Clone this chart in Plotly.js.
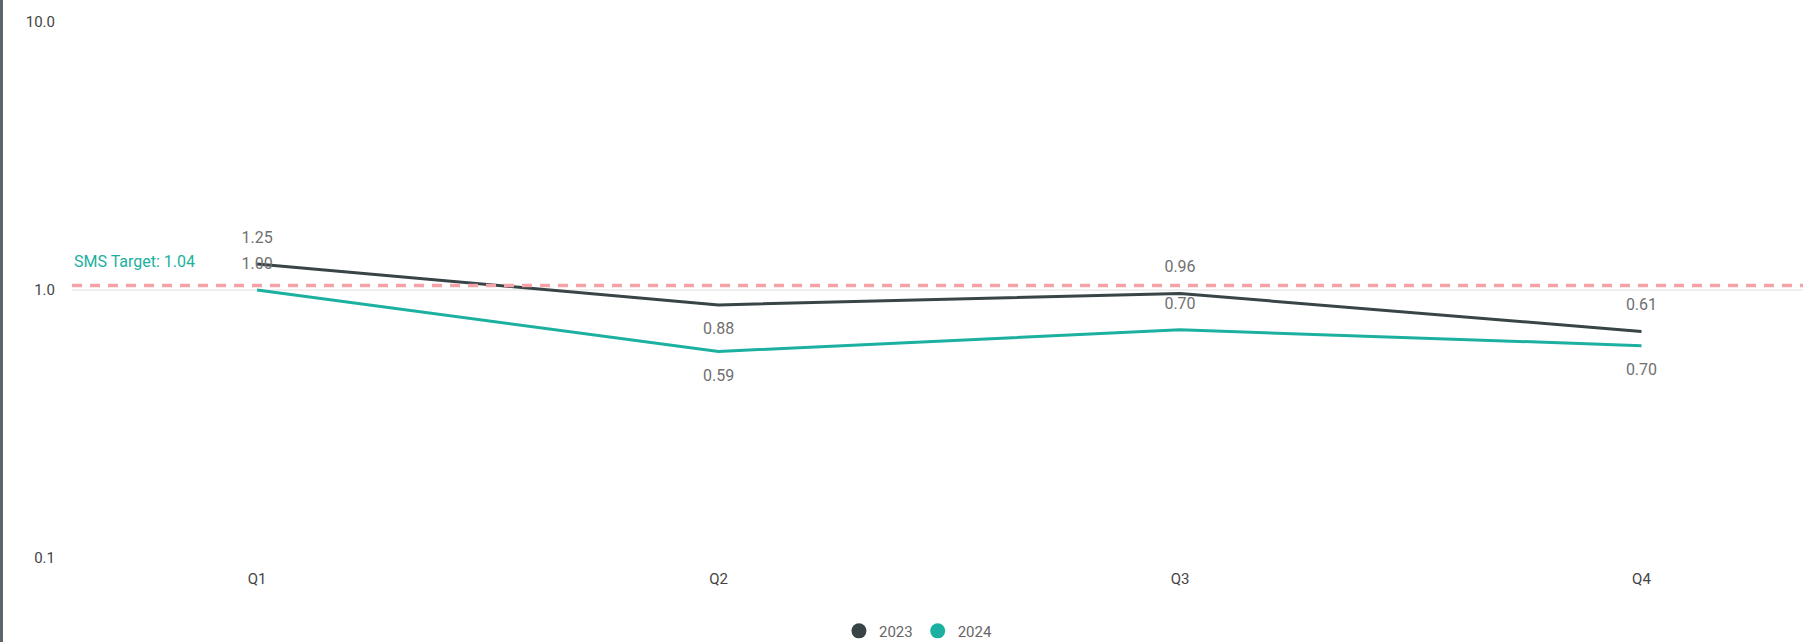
<!DOCTYPE html>
<html>
<head>
<meta charset="utf-8">
<script src="https://cdn.plot.ly/plotly-3.0.1.min.js"></script>
<style>
  html, body { margin: 0; padding: 0; background: #ffffff; overflow: hidden; }
  #chart { width: 1818px; height: 642px; }
</style>
</head>
<body>
<div id="chart"></div>
<script>
// ---- data ----
const quarters = ["Q1", "Q2", "Q3", "Q4"];
const series2023 = [1.25, 0.88, 0.97, 0.70];
const series2024 = [1.00, 0.59, 0.71, 0.62];
const labels2023 = ["1.25", "0.88", "0.96", "0.61"];
const labels2024 = ["1.00", "0.59", "0.70", "0.70"];
const labelPos2023 = ["top center", "bottom center", "top center", "top center"];
const labelPos2024 = ["top center", "bottom center", "top center", "bottom center"];
const targetValue = 1.04;
const targetLabel = "SMS Target: 1.04";
const yTickVals = [0.1, 1, 10];
const yTickText = ["0.1", "1.0", "10.0"];
const seriesNames = ["2023", "2024"];

const DARK = "#384446";
const TEAL = "#1bb0a0";
const FONT = "Roboto, 'Noto Sans', sans-serif";

const labelFont = { family: FONT, size: 16, color: "#707070" };

const traces = [
  // target reference line on a hidden overlaying linear x axis spanning the plot width
  {
    x: [0, 1], y: [targetValue, targetValue], xaxis: "x2", yaxis: "y",
    type: "scatter", mode: "lines",
    line: { color: "#f5a3a6", width: 3.5, dash: "10px,8px" },
    showlegend: false, hoverinfo: "skip"
  },
  {
    x: quarters, y: series2023, name: seriesNames[0],
    type: "scatter", mode: "lines+markers+text",
    line: { color: DARK, width: 3 },
    marker: { size: 26, opacity: 0, color: DARK },
    text: labels2023, textposition: labelPos2023, textfont: labelFont,
    showlegend: false, hoverinfo: "x+y", cliponaxis: false
  },
  {
    x: quarters, y: series2024, name: seriesNames[1],
    type: "scatter", mode: "lines+markers+text",
    line: { color: TEAL, width: 3 },
    marker: { size: 26, opacity: 0, color: TEAL },
    text: labels2024, textposition: labelPos2024, textfont: labelFont,
    showlegend: false, hoverinfo: "x+y", cliponaxis: false
  },
  // legend entries (circle markers only)
  { x: [null], y: [null], name: seriesNames[0], type: "scatter", mode: "markers",
    marker: { size: 15, color: DARK }, showlegend: true },
  { x: [null], y: [null], name: seriesNames[1], type: "scatter", mode: "markers",
    marker: { size: 15, color: TEAL }, showlegend: true }
];

const layout = {
  width: 1818, height: 642,
  margin: { l: 72, r: 15, t: 22, b: 84, pad: 0, autoexpand: false },
  paper_bgcolor: "#ffffff", plot_bgcolor: "#ffffff",
  font: { family: FONT, size: 15, color: "#444" },
  xaxis: {
    type: "category",
    range: [-0.401, 3.35],
    showgrid: false, zeroline: false, showline: false,
    ticks: "", ticklabelstandoff: 10, automargin: false,
    tickfont: { family: FONT, size: 15, color: "#444" }
  },
  xaxis2: {
    type: "linear", overlaying: "x", range: [0, 1],
    visible: false, showgrid: false, zeroline: false, fixedrange: true
  },
  yaxis: {
    type: "log",
    range: [-1, 1],
    tickvals: yTickVals, ticktext: yTickText,
    showgrid: true, gridcolor: "#efefef", gridwidth: 1.5,
    zeroline: false, showline: false, ticks: "", automargin: false,
    ticklabelstandoff: 16,
    tickfont: { family: FONT, size: 15, color: "#444" }
  },
  showlegend: true,
  legend: {
    orientation: "h",
    xref: "paper", x: 0.489, xanchor: "center",
    yref: "container", y: 0.017, yanchor: "middle",
    font: { family: FONT, size: 15, color: "#666" },
    itemwidth: 30, tracegroupgap: 0,
    bgcolor: "rgba(0,0,0,0)"
  },
  shapes: [
    {
      type: "rect", xref: "paper", yref: "paper",
      x0: -72 / 1731, x1: -69 / 1731, y0: -0.3, y1: 1.2,
      fillcolor: "#5b676c", line: { width: 0 }, layer: "above"
    }
  ],
  annotations: [
    {
      xref: "paper", yref: "y",
      x: 0, y: Math.log10(targetValue),
      xanchor: "left", yanchor: "bottom",
      yshift: 12, xshift: 0,
      text: targetLabel, showarrow: false,
      font: { family: FONT, size: 16, color: TEAL }
    }
  ]
};

Plotly.newPlot("chart", traces, layout, { displayModeBar: false, staticPlot: true });
</script>
</body>
</html>
